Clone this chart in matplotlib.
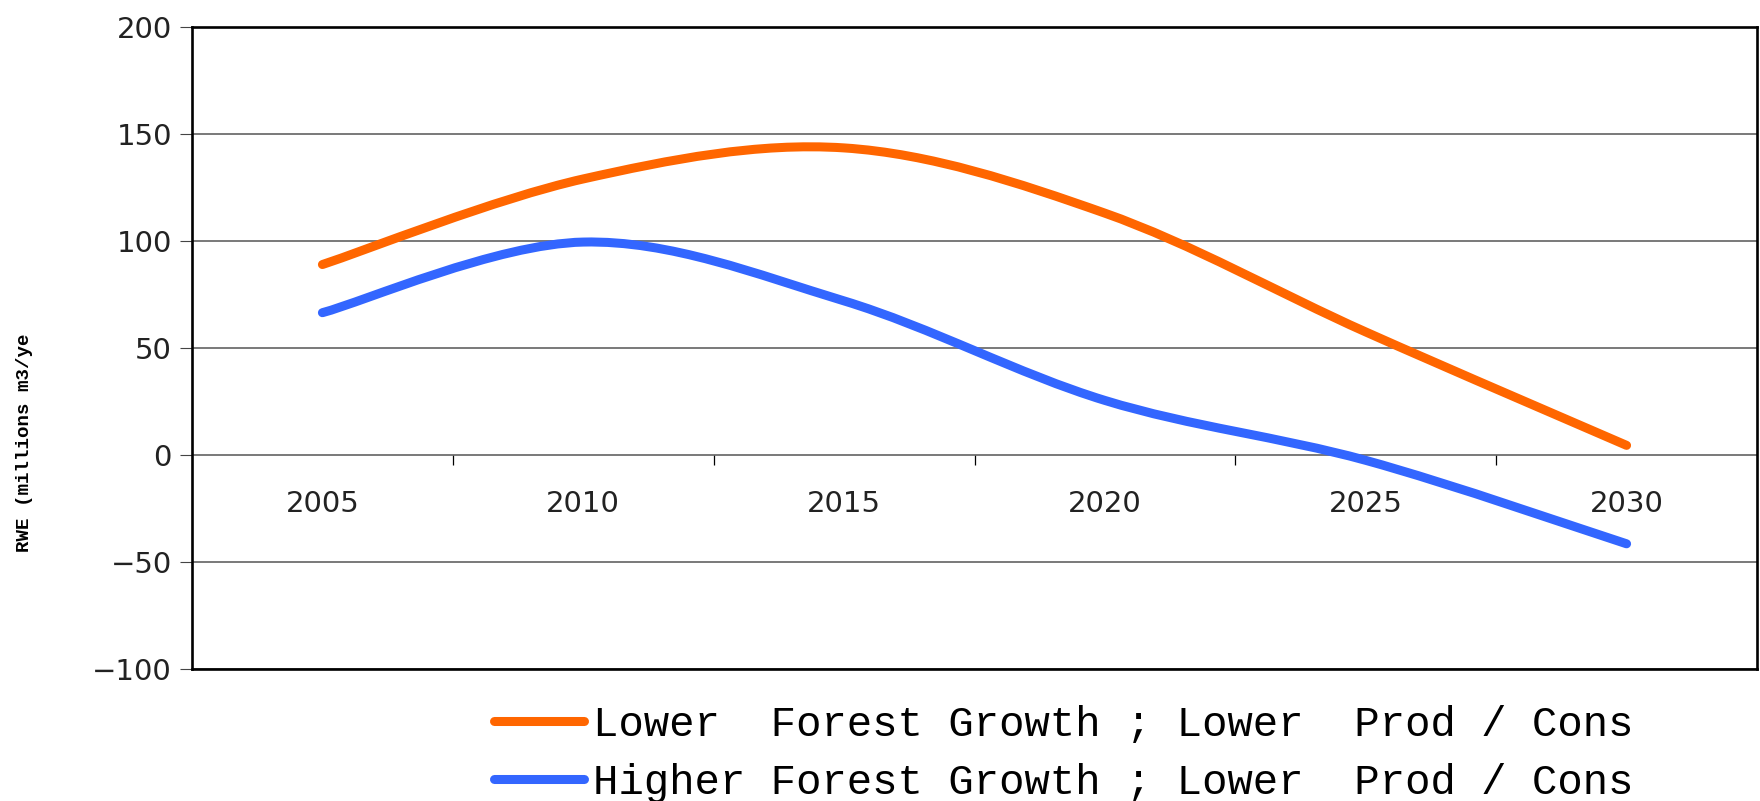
import numpy as np
import matplotlib
matplotlib.use("Agg")
import matplotlib.pyplot as plt
from matplotlib.path import Path
from matplotlib.patches import PathPatch
from matplotlib.lines import Line2D

# ---- data ----
years = [2005, 2010, 2015, 2020, 2025, 2030]
lower_growth = [89, 129, 143.5, 113, 57.5, 4.5]
higher_growth = [66.5, 99.5, 72, 25.5, -2.5, -41.5]
series_labels = ["Lower  Forest Growth ; Lower  Prod / Cons",
                 "Higher Forest Growth ; Lower  Prod / Cons"]
series_colors = ["#FF6600", "#3366FF"]
y_ticks = [-100, -50, 0, 50, 100, 150, 200]
x_labels = [str(y) for y in years]
y_label = "RWE (millions m3/ye"


def smooth_path(x, y):
    """Excel-style smoothed line (cardinal Bezier) through the data points."""
    pts = np.column_stack([x, y]).astype(float)
    n = len(pts)
    verts = [pts[0]]
    codes = [Path.MOVETO]
    for i in range(n - 1):
        p0 = pts[max(i - 1, 0)]
        p1 = pts[i]
        p2 = pts[i + 1]
        p3 = pts[min(i + 2, n - 1)]
        verts += [p1 + (p2 - p0) / 6.0, p2 - (p3 - p1) / 6.0, p2]
        codes += [Path.CURVE4] * 3
    return Path(verts, codes)


W, H = 1760, 801
fig = plt.figure(figsize=(W / 100, H / 100), dpi=100)
left, right, top, bottom = 192, 1757, 27, 669
ax = fig.add_axes([left / W, 1 - bottom / H, (right - left) / W, (bottom - top) / H])

xmin, xmax = years[0] - 2.5, years[-1] + 2.5
ymin, ymax = y_ticks[0], y_ticks[-1]
ax.set_xlim(xmin, xmax)
ax.set_ylim(ymin, ymax)

lw = 6.5
handles = []
for vals, col, lab in zip([lower_growth, higher_growth], series_colors, series_labels):
    patch = PathPatch(smooth_path(years, vals), facecolor="none", edgecolor=col,
                      lw=lw, capstyle="round", joinstyle="round", zorder=3)
    ax.add_patch(patch)
    handles.append(Line2D([], [], color=col, lw=lw, solid_capstyle="round", label=lab))

# frame
for s in ax.spines.values():
    s.set_linewidth(1.9)
    s.set_color("black")

tick_font = {"family": "DejaVu Sans", "fontsize": 21, "color": "#222222"}

# y axis
ax.set_yticks(y_ticks)
ax.set_yticklabels([str(v).replace("-", "\u2212") for v in y_ticks], **tick_font)
ax.tick_params(axis="y", direction="out", length=8.5, width=0.8, pad=6, color="#444444")
ax.yaxis.grid(True, color="#555555", lw=1.1)
ax.set_axisbelow(True)

# hide primary x axis ticks
ax.tick_params(axis="x", bottom=False, labelbottom=False)

# category axis crossing at y = 0
zero_pos = (0 - ymin) / (ymax - ymin)
sec = ax.secondary_xaxis(zero_pos)
for s in sec.spines.values():
    s.set_visible(False)
bounds = [y + 2.5 for y in years[:-1]]
sec.set_xticks(bounds)
sec.set_xticklabels([""] * len(bounds))
sec.set_xticks(years, minor=True)
sec.set_xticklabels(x_labels, minor=True, **tick_font)
sec.tick_params(which="major", direction="out", length=7, width=0.9, color="black")
sec.tick_params(which="minor", length=0, pad=25)

# y label (truncated as in the original)
ax.set_ylabel(y_label, family="Liberation Mono", fontweight="bold", fontsize=13.8)
ax.yaxis.label.set_va("center")
ax.yaxis.set_label_coords((25 - left) / (right - left), (bottom - 443) / (bottom - top))

# legend below
fig.legend(handles=handles, loc="upper left",
           bbox_to_anchor=(494 / W, 1 - 705 / H), frameon=False,
           prop={"family": "Liberation Mono", "size": 30.5},
           handlelength=2.12, handletextpad=0.21, labelspacing=0.42,
           borderpad=0, borderaxespad=0)

fig.savefig("out.png", dpi=100, facecolor="white")
